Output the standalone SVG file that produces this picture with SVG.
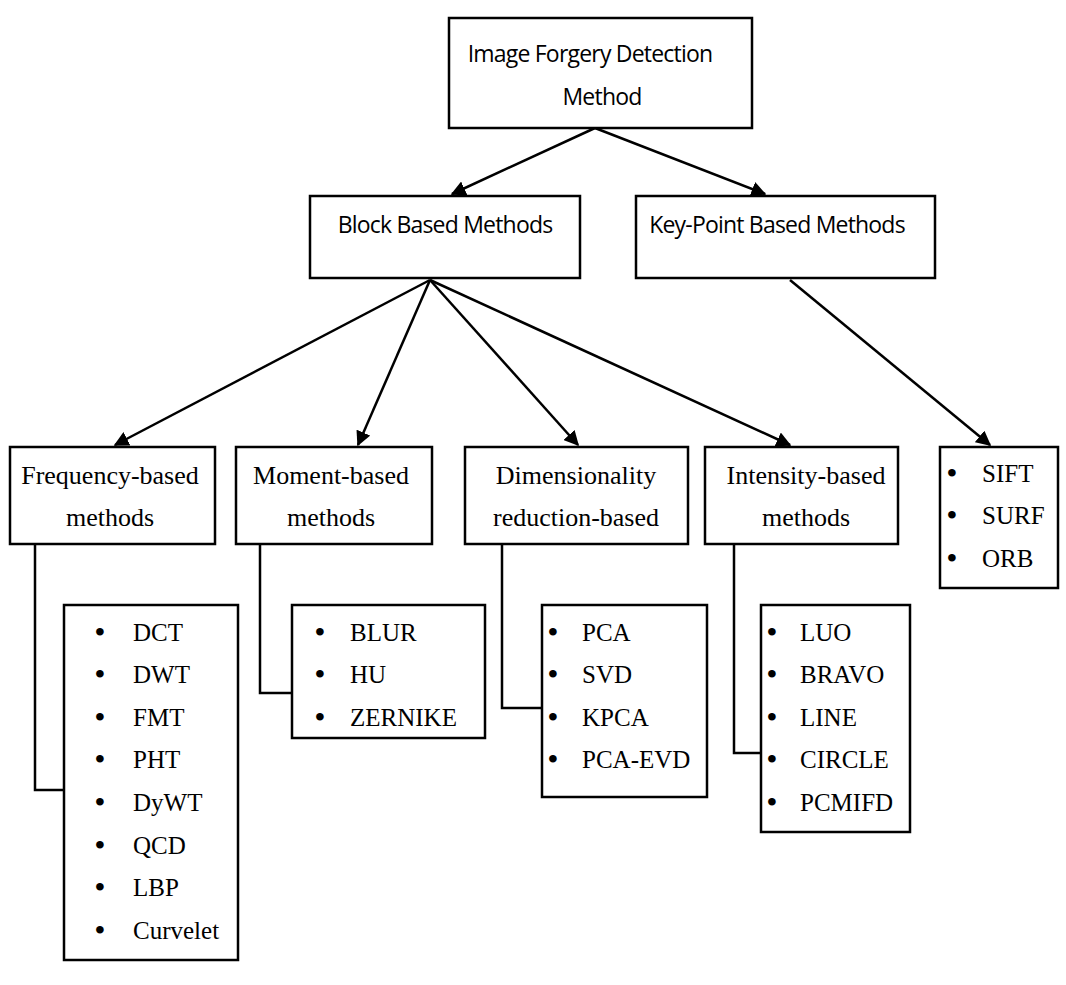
<svg xmlns="http://www.w3.org/2000/svg" width="1066" height="985" viewBox="0 0 1066 985">
<style>
rect{fill:#fff;stroke:#000;stroke-width:2.5}
.s{font-family:"Open Sans","DejaVu Sans",sans-serif;font-size:23px;text-anchor:middle;letter-spacing:-0.8px}
.t{font-family:"Liberation Serif",serif;font-size:26px;text-anchor:middle}
.l{font-family:"Liberation Serif",serif;font-size:25px}
.l tspan:first-child{font-weight:bold;font-size:28px}
#c path{fill:none;stroke:#000;stroke-width:2.5}
</style>
<defs><marker id="a" viewBox="0 0 10 10" refX="9" refY="5" markerWidth="6" markerHeight="6" orient="auto"><path d="M0,0L10,5L0,10z" fill="#000"/></marker></defs>
<rect width="1066" height="985" style="stroke:none"/>
<g id="c">
<path d="M595,128L452,194" marker-end="url(#a)"/>
<path d="M595,128L765,194" marker-end="url(#a)"/>
<path d="M430,280L115,445" marker-end="url(#a)"/>
<path d="M430,280L358,445" marker-end="url(#a)"/>
<path d="M430,280L578,445" marker-end="url(#a)"/>
<path d="M430,280L790,445" marker-end="url(#a)"/>
<path d="M790,280L990,445" marker-end="url(#a)"/>
<path d="M35,545V790H64"/>
<path d="M260,545V693H292"/>
<path d="M502,545V708H542"/>
<path d="M734,545V753H761"/>
</g>
<g id="root"><rect x="449" y="18" width="303" height="110"/><text class="s" x="590" y="62">Image Forgery Detection</text><text class="s" x="602" y="105">Method</text></g>
<g id="block"><rect x="310" y="196" width="270" height="82"/><text class="s" x="445" y="233">Block Based Methods</text></g>
<g id="key"><rect x="636" y="196" width="299" height="82"/><text class="s" x="777" y="233">Key-Point Based Methods</text></g>
<g id="freq"><rect x="10" y="447" width="205" height="97"/><text class="t" x="110" y="484">Frequency-based</text><text class="t" x="110" y="526">methods</text></g>
<g id="moment"><rect x="236" y="447" width="196" height="97"/><text class="t" x="331" y="484">Moment-based</text><text class="t" x="331" y="526">methods</text></g>
<g id="dim"><rect x="465" y="447" width="223" height="97"/><text class="t" x="576" y="484">Dimensionality</text><text class="t" x="576" y="526">reduction-based</text></g>
<g id="int"><rect x="705" y="447" width="193" height="97"/><text class="t" x="806" y="484">Intensity-based</text><text class="t" x="806" y="526">methods</text></g>
<g id="kp"><rect x="940" y="447" width="118" height="141"/><text class="l" y="482"><tspan x="947">•</tspan><tspan x="982">SIFT</tspan></text><text class="l" y="524"><tspan x="947">•</tspan><tspan x="982">SURF</tspan></text><text class="l" y="567"><tspan x="947">•</tspan><tspan x="982">ORB</tspan></text></g>
<g id="freqlist"><rect x="64" y="605" width="174" height="355"/>
<text class="l" y="641"><tspan x="95">•</tspan><tspan x="133">DCT</tspan></text>
<text class="l" y="683"><tspan x="95">•</tspan><tspan x="133">DWT</tspan></text>
<text class="l" y="726"><tspan x="95">•</tspan><tspan x="133">FMT</tspan></text>
<text class="l" y="768"><tspan x="95">•</tspan><tspan x="133">PHT</tspan></text>
<text class="l" y="811"><tspan x="95">•</tspan><tspan x="133">DyWT</tspan></text>
<text class="l" y="854"><tspan x="95">•</tspan><tspan x="133">QCD</tspan></text>
<text class="l" y="896"><tspan x="95">•</tspan><tspan x="133">LBP</tspan></text>
<text class="l" y="939"><tspan x="95">•</tspan><tspan x="133">Curvelet</tspan></text></g>
<g id="momlist"><rect x="292" y="605" width="193" height="133"/>
<text class="l" y="641"><tspan x="315">•</tspan><tspan x="350">BLUR</tspan></text>
<text class="l" y="683"><tspan x="315">•</tspan><tspan x="350">HU</tspan></text>
<text class="l" y="726"><tspan x="315">•</tspan><tspan x="350">ZERNIKE</tspan></text></g>
<g id="dimlist"><rect x="542" y="605" width="165" height="192"/>
<text class="l" y="641"><tspan x="548">•</tspan><tspan x="582">PCA</tspan></text>
<text class="l" y="683"><tspan x="548">•</tspan><tspan x="582">SVD</tspan></text>
<text class="l" y="726"><tspan x="548">•</tspan><tspan x="582">KPCA</tspan></text>
<text class="l" y="768"><tspan x="548">•</tspan><tspan x="582">PCA-EVD</tspan></text></g>
<g id="intlist"><rect x="761" y="605" width="149" height="227"/>
<text class="l" y="641"><tspan x="767">•</tspan><tspan x="800">LUO</tspan></text>
<text class="l" y="683"><tspan x="767">•</tspan><tspan x="800">BRAVO</tspan></text>
<text class="l" y="726"><tspan x="767">•</tspan><tspan x="800">LINE</tspan></text>
<text class="l" y="768"><tspan x="767">•</tspan><tspan x="800">CIRCLE</tspan></text>
<text class="l" y="811"><tspan x="767">•</tspan><tspan x="800">PCMIFD</tspan></text></g>
</svg>
